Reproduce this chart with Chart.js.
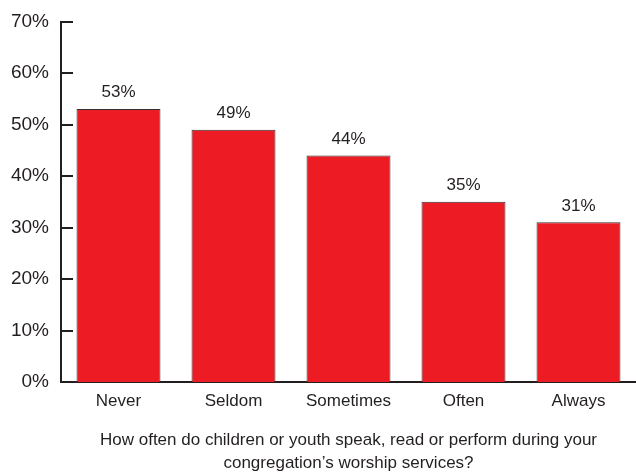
<!DOCTYPE html>
<html>
<head>
<meta charset="utf-8">
<script src="https://cdn.jsdelivr.net/npm/chart.js@4"></script>
<style>
  html, body { margin: 0; padding: 0; background: #fff; }
  #wrap { width: 636px; height: 473px; }
</style>
</head>
<body>
<div id="wrap"><canvas id="chart"></canvas></div>
<script>
const categories = ['Never', 'Seldom', 'Sometimes', 'Often', 'Always'];
const values = [53, 49, 44, 35, 31];
const yTicks = [0, 10, 20, 30, 40, 50, 60, 70];
const xTitle = ['How often do children or youth speak, read or perform during your', 'congregation\u2019s worship services?'];

const FONT = '"Liberation Sans Narrow", "Liberation Sans", Arial, sans-serif';
const INK = '#231f20';

// value labels above bars + short inward tick marks on the y axis
const extras = {
    id: 'extras',
    afterDatasetsDraw(chart) {
        const ctx = chart.ctx;
        const meta = chart.getDatasetMeta(0);
        ctx.save();
        ctx.fillStyle = INK;
        ctx.font = '17px ' + FONT;
        ctx.textAlign = 'center';
        ctx.textBaseline = 'bottom';
        meta.data.forEach((bar, i) => {
            ctx.fillText(values[i] + '%', bar.x, bar.y - 8);
        });

        const y = chart.scales.y;
        const left = chart.chartArea.left;
        ctx.strokeStyle = INK;
        ctx.lineWidth = 2;
        yTicks.forEach(t => {
            const py = Math.round(y.getPixelForValue(t));
            ctx.beginPath();
            ctx.moveTo(left, py);
            ctx.lineTo(left + 12, py);
            ctx.stroke();
        });
        ctx.restore();
    }
};

new Chart(document.getElementById('chart').getContext('2d'), {
    type: 'bar',
    data: {
        labels: categories,
        datasets: [{
            data: values,
            backgroundColor: '#ed1c24',
            borderColor: '#333333',
            borderWidth: 1,
            barPercentage: 0.73,
            categoryPercentage: 1
        }]
    },
    options: {
        responsive: true,
        maintainAspectRatio: false,
        animation: false,
        layout: { padding: { top: 20, right: 0, left: 0, bottom: 0 } },
        plugins: {
            legend: { display: false },
            tooltip: { enabled: false }
        },
        scales: {
            x: {
                afterFit: axis => { axis.height = 91; },
                grid: { display: false, drawTicks: false },
                border: { color: INK, width: 2 },
                ticks: { color: INK, font: { family: FONT, size: 17 }, padding: 9 },
                title: {
                    display: true,
                    text: xTitle,
                    color: INK,
                    font: { family: FONT, size: 17, lineHeight: 1.35 },
                    padding: { top: 18, bottom: -2 }
                }
            },
            y: {
                min: 0,
                max: 70,
                afterBuildTicks: axis => { axis.ticks = yTicks.map(v => ({ value: v })); },
                afterFit: axis => { axis.width = 61; },
                grid: { display: false, drawTicks: false },
                border: { color: INK, width: 2 },
                ticks: {
                    color: INK,
                    font: { family: FONT, size: 19, lineHeight: 1 },
                    padding: 12,
                    callback: v => v + '%'
                }
            }
        }
    },
    plugins: [extras]
});
</script>
</body>
</html>
